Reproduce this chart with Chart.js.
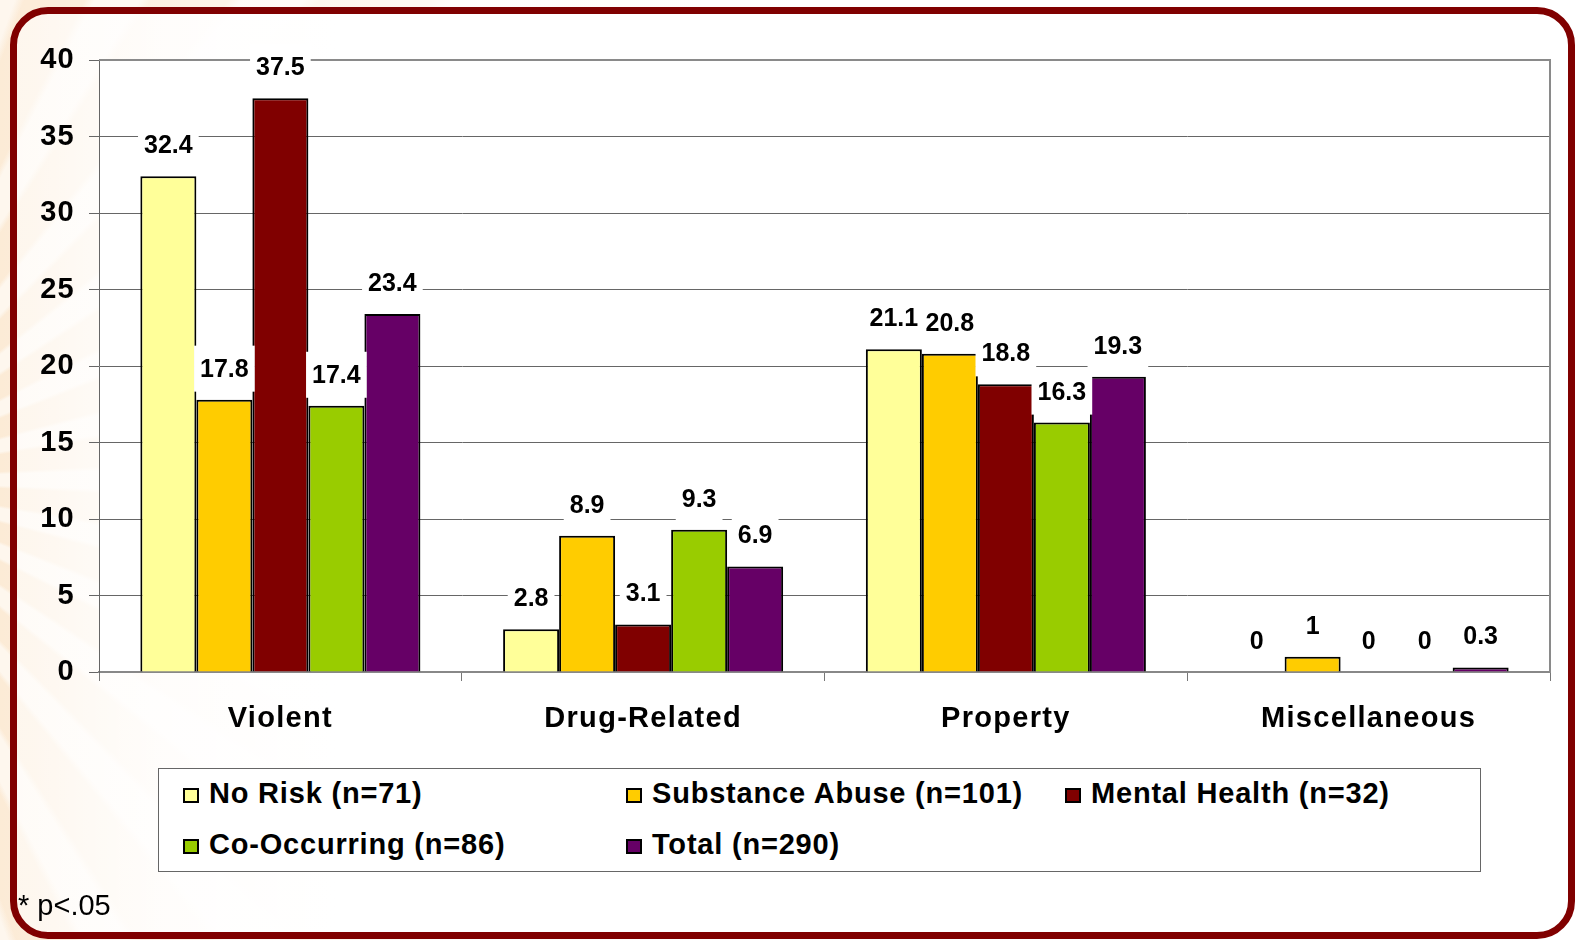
<!DOCTYPE html>
<html>
<head>
<meta charset="utf-8">
<script src="https://cdn.jsdelivr.net/npm/chart.js@4"></script>
<style>
  html, body { margin: 0; padding: 0; }
  body {
    width: 1579px; height: 940px; position: relative; overflow: hidden;
    font-family: 'Liberation Sans', Arial, sans-serif;
    background:
      linear-gradient(to right, rgba(255,255,255,0.2) 0px, rgba(255,255,255,0.5) 200px, rgba(255,255,255,0.88) 500px, #fff 800px),
      repeating-conic-gradient(from 10deg at -160px 480px, #fbe6cc 0deg 5deg, #fef5ea 6deg 10deg, #fbe6cc 11deg 12deg);
  }
  #frame {
    position: absolute; left: 10px; top: 7px; width: 1565px; height: 932px;
    box-sizing: border-box; border: 7px solid #800000; border-radius: 38px;
    background: linear-gradient(to right, rgba(255,255,255,0.55) 0px, rgba(255,255,255,0.85) 140px, #fff 320px);
  }
  #chart { position: absolute; left: 0; top: 0; }
  #legend {
    position: absolute; left: 158px; top: 768px; width: 1323px; height: 104px;
    box-sizing: border-box; border: 1px solid #666; background: #fff;
  }
  .item {
    position: absolute; height: 34px; display: flex; align-items: center;
    font-weight: bold; font-size: 29px; letter-spacing: 0.8px; color: #000; white-space: nowrap;
  }
  .sw { width: 16px; height: 15px; box-sizing: border-box; border: 2px solid #000; margin-right: 10px; margin-top: 4px; }
  #note { position: absolute; left: 18px; top: 891px; font-size: 29px; line-height: 29px; color: #000; }
</style>
</head>
<body>
<div id="frame"></div>
<canvas id="chart" width="1579" height="940"></canvas>
<div id="legend"></div>
<div id="note">* p&lt;.05</div>
<script>
// Offence categories and rates (%) for each group
const categories = ['Violent', 'Drug-Related', 'Property', 'Miscellaneous'];
const seriesNames = ['No Risk (n=71)', 'Substance Abuse (n=101)', 'Mental Health (n=32)', 'Co-Occurring (n=86)', 'Total (n=290)'];
const noRisk        = [32.4, 2.8, 21.1, 0];
const substance     = [17.8, 8.9, 20.8, 1];
const mentalHealth  = [37.5, 3.1, 18.8, 0];
const coOccurring   = [17.4, 9.3, 16.3, 0];
const total         = [23.4, 6.9, 19.3, 0.3];
const yTicks        = [0, 5, 10, 15, 20, 25, 30, 35, 40];

const seriesValues = [noRisk, substance, mentalHealth, coOccurring, total];
const seriesColors = ['#FFFF99', '#FFCC00', '#800000', '#99CC00', '#660066'];

const FONT = "'Liberation Sans', Arial, sans-serif";

// Letter spacing for the axis text
const spacing = {
  id: 'spacing',
  beforeLayout(c) { c.ctx.letterSpacing = '1.3px'; },
  beforeDraw(c) { c.ctx.letterSpacing = '1.3px'; }
};

// White plot area with grey top/right border
const plotFrame = {
  id: 'plotFrame',
  beforeDraw(c) {
    const { ctx, chartArea: a } = c;
    ctx.save();
    ctx.fillStyle = '#fff';
    ctx.fillRect(a.left, a.top, a.right - a.left, a.bottom - a.top);
    ctx.restore();
  },
  beforeDatasetsDraw(c) {
    const { ctx, chartArea: a } = c;
    ctx.save();
    ctx.strokeStyle = '#8a8a8a';
    ctx.lineWidth = 2;
    ctx.beginPath();
    ctx.moveTo(a.left, a.top);
    ctx.lineTo(a.right, a.top);
    ctx.lineTo(a.right, a.bottom);
    ctx.stroke();
    ctx.restore();
  }
};

// Value labels on white boxes above each bar
const valueLabels = {
  id: 'valueLabels',
  afterDatasetsDraw(c) {
    const ctx = c.ctx;
    ctx.save();
    ctx.letterSpacing = '0px';
    ctx.font = 'bold 25px ' + FONT;
    ctx.textAlign = 'center';
    ctx.textBaseline = 'middle';
    c.data.datasets.forEach((ds, di) => {
      const meta = c.getDatasetMeta(di);
      meta.data.forEach((bar, i) => {
        const txt = String(ds.data[i]);
        const cy = bar.y - 31;
        const w = ctx.measureText(txt).width + 12;
        ctx.fillStyle = '#fff';
        ctx.fillRect(bar.x - w / 2, cy - 23, w, 46);
        ctx.fillStyle = '#000';
        ctx.fillText(txt, bar.x, cy + 1);
      });
    });
    ctx.restore();
  }
};

new Chart(document.getElementById('chart'), {
  type: 'bar',
  data: {
    labels: categories,
    datasets: seriesNames.map((name, i) => ({
      label: name,
      data: seriesValues[i],
      backgroundColor: seriesColors[i],
      borderColor: '#000',
      borderWidth: 2,
      categoryPercentage: 0.772,
      barPercentage: 1.0
    }))
  },
  options: {
    responsive: false,
    animation: false,
    events: [],
    layout: { padding: { left: 0, top: 60, right: 29, bottom: 0 } },
    plugins: { legend: { display: false }, tooltip: { enabled: false } },
    scales: {
      x: {
        afterFit(s) { s.height = 268; },
        grid: { offset: true, drawOnChartArea: false, drawTicks: true, tickLength: 9, color: '#777', lineWidth: 1 },
        border: { color: '#888', width: 2 },
        ticks: { color: '#000', padding: 21, font: { family: FONT, size: 29, weight: 'bold' } }
      },
      y: {
        min: 0, max: 40,
        afterFit(s) { s.width = 99; },
        afterBuildTicks(s) { s.ticks = yTicks.map(v => ({ value: v })); },
        grid: { color: '#666', lineWidth: 1, tickLength: 10, drawTicks: true },
        border: { color: '#666', width: 1 },
        ticks: { color: '#000', padding: 14, font: { family: FONT, size: 29, weight: 'bold' } }
      }
    }
  },
  plugins: [spacing, plotFrame, valueLabels]
});

// Legend boxes, three per row
const legendCols = [182, 625, 1064];
const legendRows = [794, 845];
const legend = document.getElementById('legend');
seriesNames.forEach((name, i) => {
  const item = document.createElement('div');
  item.className = 'item';
  item.style.left = (legendCols[i % 3] - 158) + 'px';
  item.style.top = (legendRows[Math.floor(i / 3)] - 768 - 19) + 'px';
  const sw = document.createElement('span');
  sw.className = 'sw';
  sw.style.background = seriesColors[i];
  const tx = document.createElement('span');
  tx.textContent = name;
  item.appendChild(sw);
  item.appendChild(tx);
  legend.appendChild(item);
});
</script>
</body>
</html>
